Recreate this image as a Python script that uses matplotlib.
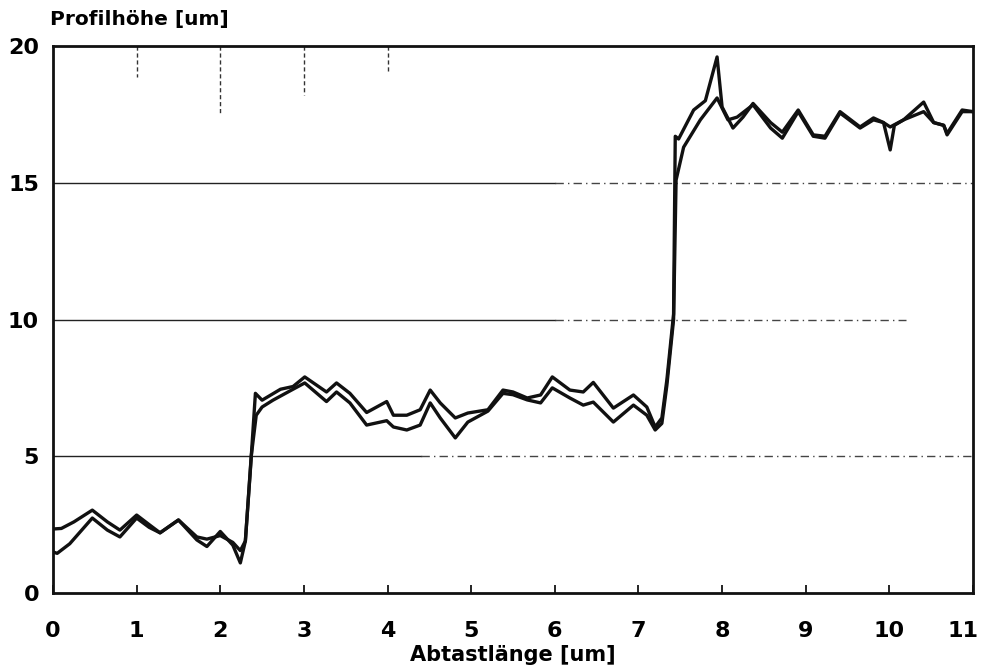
import matplotlib
matplotlib.use("Agg")
import matplotlib.pyplot as plt
from matplotlib.transforms import ScaledTranslation

# ---- data ----
xa = [0.0, 0.1, 0.25, 0.47, 0.65, 0.8, 1.0, 1.15, 1.28, 1.5, 1.72, 1.84, 2.0, 2.15, 2.24, 2.3,
      2.36, 2.42, 2.5, 2.72, 2.87, 3.01, 3.27, 3.39, 3.55, 3.75, 3.99, 4.07, 4.23, 4.39, 4.51,
      4.63, 4.81, 4.96, 5.2, 5.38, 5.5, 5.67, 5.83, 5.97, 6.18, 6.34, 6.46, 6.7, 6.94, 7.1,
      7.2, 7.28, 7.34, 7.42, 7.44, 7.48, 7.66, 7.8, 7.94, 8.0, 8.13, 8.25, 8.37, 8.58, 8.72,
      8.91, 9.09, 9.23, 9.41, 9.65, 9.81, 9.93, 10.01, 10.17, 10.41, 10.53, 10.65, 10.69,
      10.87, 11.0]
ya = [2.34, 2.36, 2.6, 3.03, 2.6, 2.3, 2.85, 2.5, 2.2, 2.67, 2.05, 1.97, 2.1, 1.85, 1.55, 1.9,
      4.5, 7.3, 7.05, 7.45, 7.55, 7.9, 7.35, 7.68, 7.3, 6.6, 7.0, 6.5, 6.5, 6.7, 7.42,
      6.95, 6.4, 6.58, 6.7, 7.42, 7.35, 7.13, 7.24, 7.9, 7.42, 7.35, 7.7, 6.76, 7.24, 6.8,
      6.07, 6.4, 7.8, 10.2, 16.7, 16.6, 17.66, 18.0, 19.6, 17.77, 17.0, 17.4, 17.9, 17.2, 16.85,
      17.66, 16.75, 16.7, 17.6, 17.04, 17.37, 17.2, 17.04, 17.3, 17.95, 17.2, 17.1, 16.8,
      17.66, 17.6]

xb = [0.0, 0.05, 0.2, 0.47, 0.65, 0.8, 1.0, 1.15, 1.28, 1.5, 1.72, 1.84, 2.0, 2.15, 2.24, 2.3,
      2.37, 2.43, 2.5, 2.63, 2.87, 3.01, 3.27, 3.39, 3.55, 3.75, 3.99, 4.07, 4.23, 4.39, 4.51,
      4.63, 4.81, 4.96, 5.2, 5.38, 5.5, 5.67, 5.83, 5.97, 6.18, 6.34, 6.46, 6.7, 6.94, 7.1,
      7.2, 7.28, 7.34, 7.42, 7.45, 7.54, 7.66, 7.74, 7.94, 8.07, 8.18, 8.37, 8.58, 8.72,
      8.91, 9.09, 9.23, 9.41, 9.65, 9.81, 9.93, 10.01, 10.06, 10.17, 10.41, 10.53, 10.65, 10.69,
      10.87, 11.0]
yb = [1.5, 1.45, 1.8, 2.74, 2.3, 2.05, 2.74, 2.4, 2.2, 2.67, 1.94, 1.7, 2.25, 1.75, 1.1, 1.9,
      5.0, 6.5, 6.8, 7.05, 7.45, 7.68, 7.0, 7.35, 6.95, 6.14, 6.3, 6.07, 5.96, 6.14, 6.95,
      6.4, 5.67, 6.25, 6.65, 7.3, 7.25, 7.06, 6.95, 7.5, 7.13, 6.87, 6.98, 6.25, 6.87, 6.5,
      5.96, 6.2, 7.6, 10.0, 15.1, 16.3, 16.9, 17.3, 18.1, 17.3, 17.4, 17.85, 17.0, 16.63,
      17.6, 16.7, 16.63, 17.55, 17.0, 17.3, 17.2, 16.2, 17.1, 17.3, 17.6, 17.2, 17.1, 16.75,
      17.6, 17.6]

grid_levels = [5, 10, 15]
xticks = list(range(0, 12))
yticks = [0, 5, 10, 15, 20]
top_marks = [1, 2, 3, 4]

# ---- figure ----
fig = plt.figure(figsize=(9.83, 6.69), dpi=100)
ax = fig.add_axes([53/983, 1-593/669, 920/983, 547/669])
ax.set_xlim(0, 11)
ax.set_ylim(0, 20)

font = dict(family=["DejaVu Sans"], weight="bold")

# gridlines: solid on the left, dash-dot further right
solid_end = {5: 4.4, 10: 6.0, 15: 6.0}
dash_end = {5: 11.0, 10: 10.2, 15: 11.0}
for lv in grid_levels:
    ax.plot([0, solid_end[lv]], [lv, lv], color="#222222", lw=1.0, zorder=1)
    ax.plot([solid_end[lv], dash_end[lv]], [lv, lv], color="#444444", lw=1.0,
            linestyle=(0, (6, 3, 1, 3)), zorder=1)

# dashed marks from the top edge
mark_len = {1: 1.15, 2: 2.45, 3: 1.8, 4: 0.95}
for m in top_marks:
    ax.plot([m, m], [20, 20 - mark_len[m]], color="#333333", lw=1.0,
            linestyle=(0, (3, 2)), zorder=1)

ax.plot(xa, ya, color="#111111", lw=2.4, solid_joinstyle="round", zorder=3)
ax.plot(xb, yb, color="#111111", lw=2.4, solid_joinstyle="round", zorder=3)

for s in ax.spines.values():
    s.set_linewidth(2.0)
    s.set_color("#111111")

ax.set_xticks(xticks)
ax.set_xticklabels([str(t) for t in xticks], fontsize=16, **font)
ax.set_yticks(yticks)
ax.set_yticklabels([str(t) for t in yticks], fontsize=16, **font)
ax.tick_params(axis="x", direction="in", length=6, width=1.2, pad=20)
ax.tick_params(axis="y", direction="in", length=0, pad=10)

# keep the last x label inside the canvas
last = ax.get_xticklabels()[-1]
last.set_transform(last.get_transform() + ScaledTranslation(-10/100, 0, fig.dpi_scale_trans))

fig.text(50/983, 1-20/669, "Profilhöhe [um]", fontsize=14.5, ha="left", va="center", **font)
fig.text(513/983, 1-655/669, "Abtastlänge [um]", fontsize=15, ha="center", va="center", **font)

fig.savefig("out.png", dpi=100)
